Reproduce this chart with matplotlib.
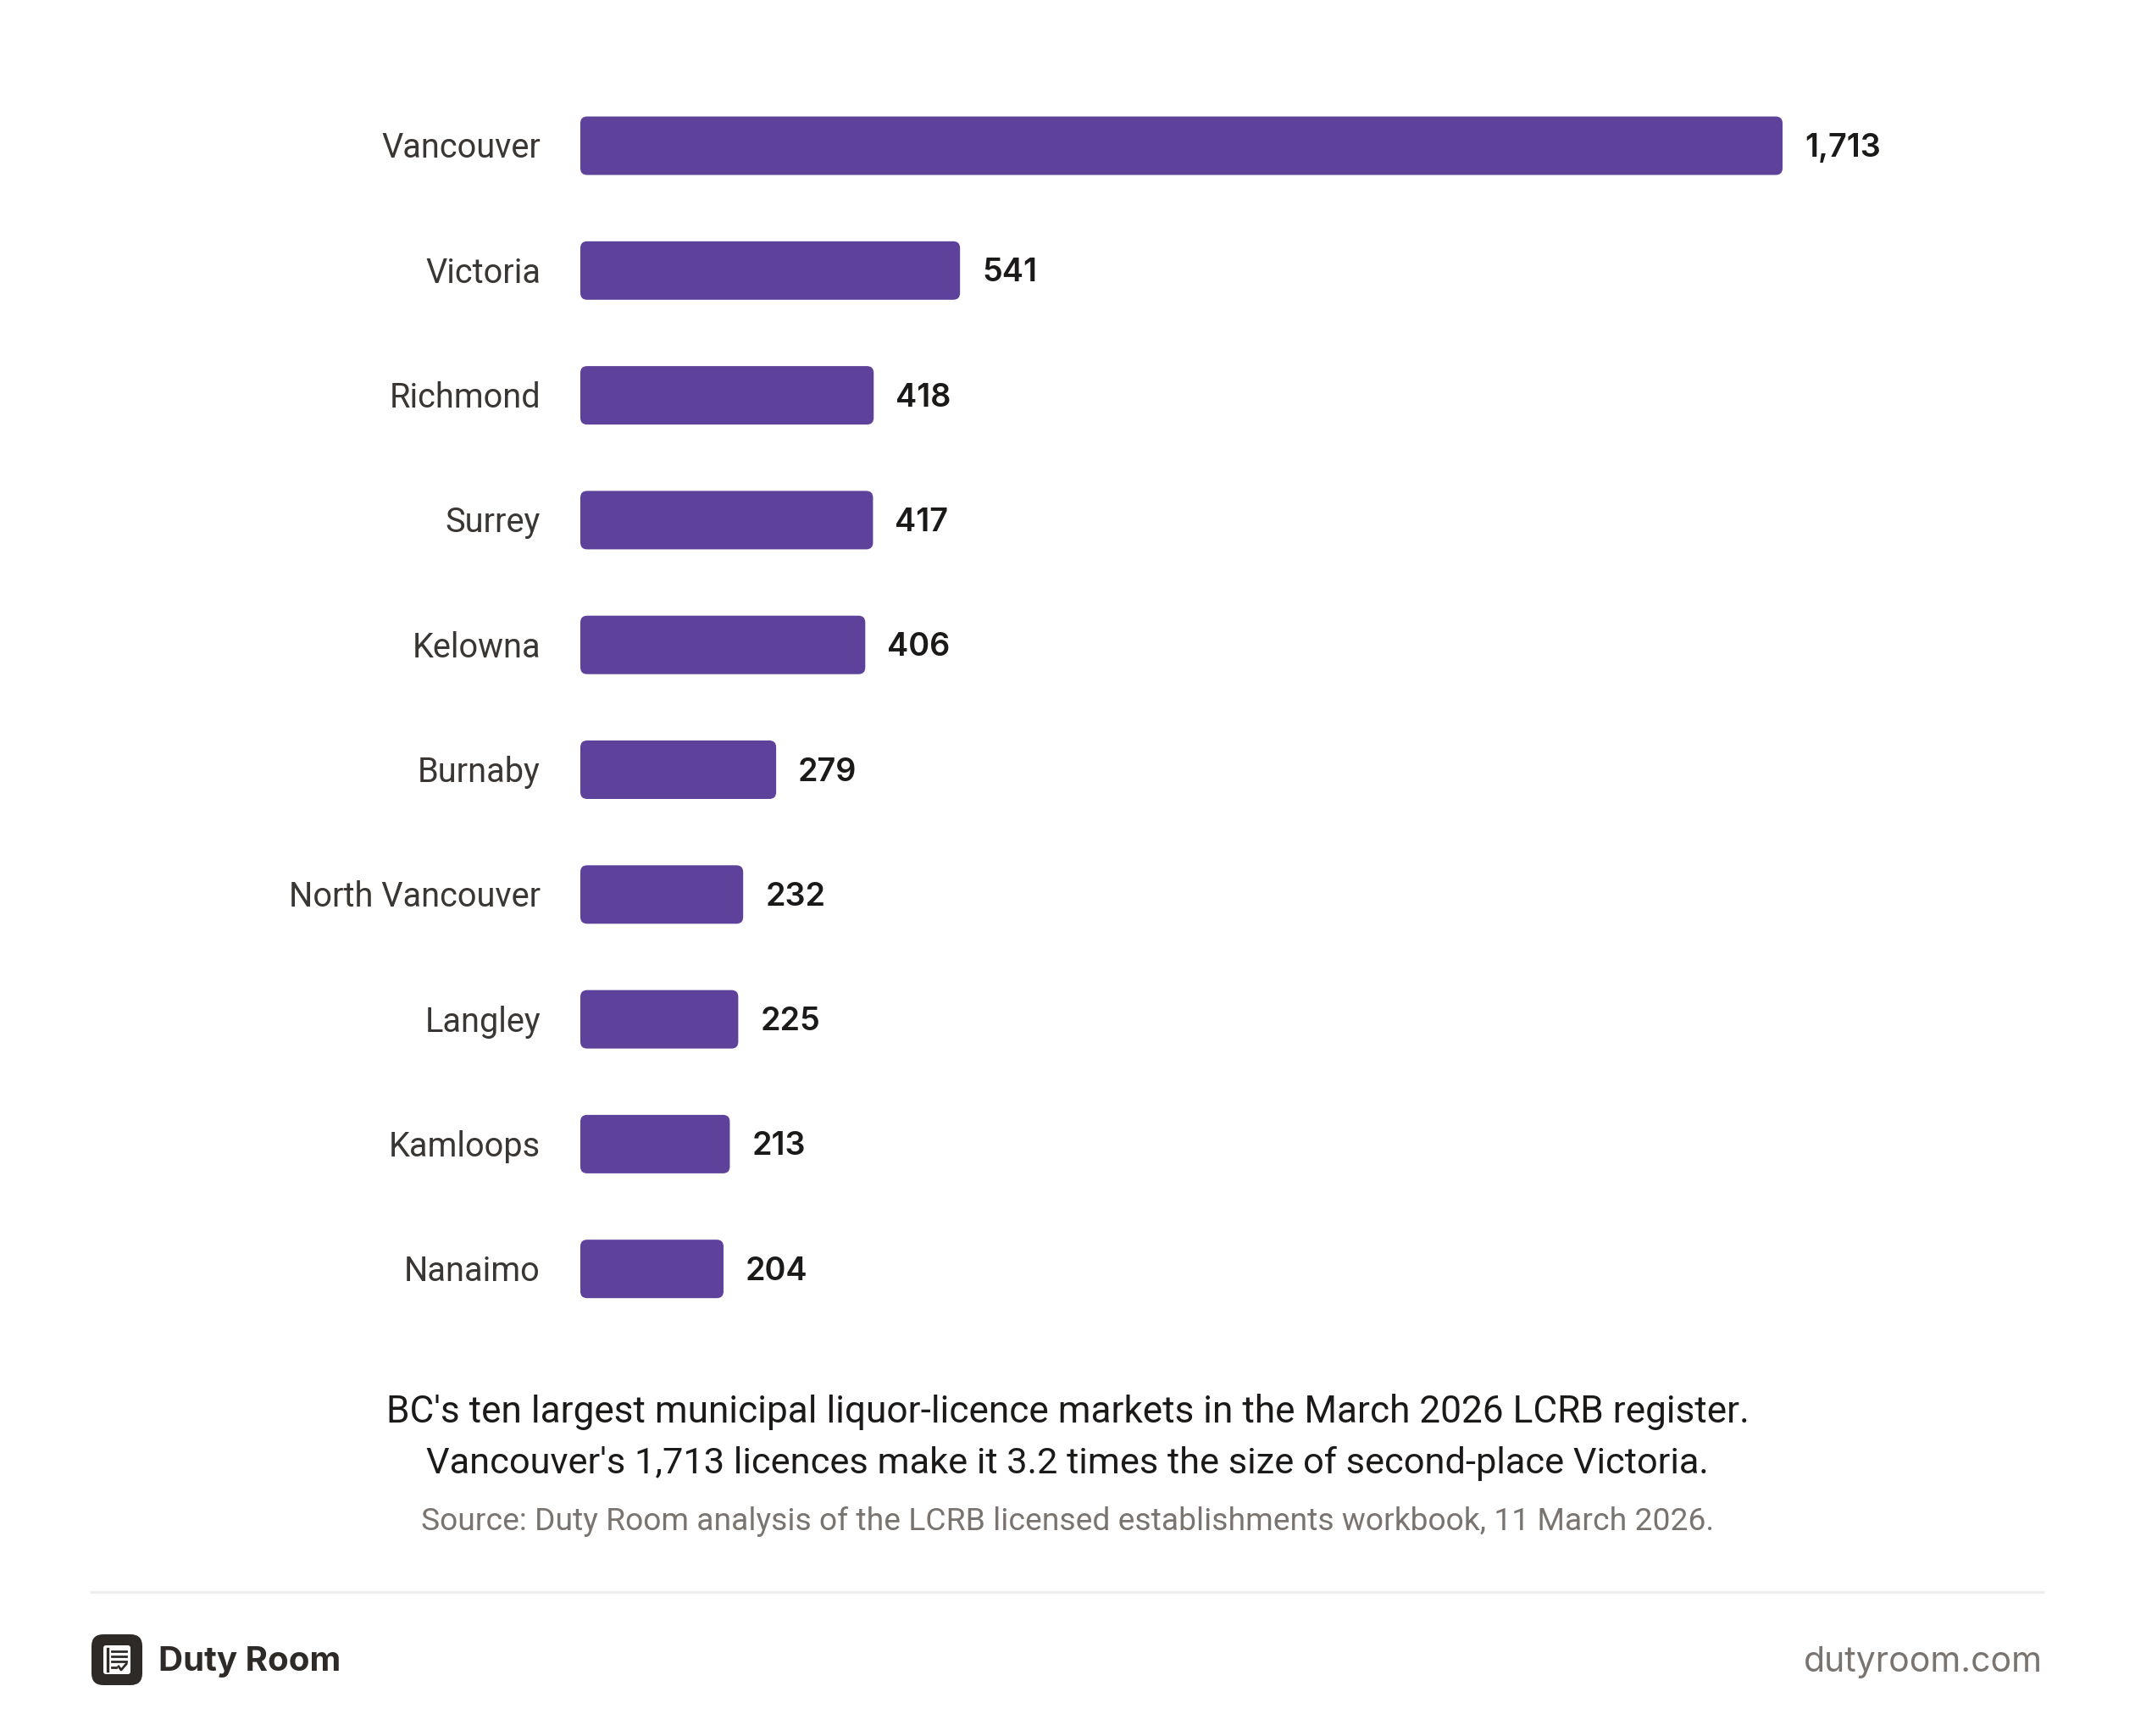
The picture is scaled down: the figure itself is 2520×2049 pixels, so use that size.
import matplotlib
matplotlib.use("Agg")
import matplotlib.pyplot as plt
from matplotlib.patches import FancyBboxPatch
from matplotlib.lines import Line2D

cities = ["Vancouver", "Victoria", "Richmond", "Surrey", "Kelowna",
          "Burnaby", "North Vancouver", "Langley", "Kamloops", "Nanaimo"]
licences = [1713, 541, 418, 417, 406, 279, 232, 225, 213, 204]
caption = ["BC's ten largest municipal liquor-licence markets in the March 2026 LCRB register.",
           "Vancouver's 1,713 licences make it 3.2 times the size of second-place Victoria."]
source = "Source: Duty Room analysis of the LCRB licensed establishments workbook, 11 March 2026."

W, H, DPI = 2520, 2049, 200
PURPLE = "#5e419b"
DARK = "#2d2a28"
GREY = "#7a7470"
LABEL_FONT = ["Roboto", "DejaVu Sans"]
NUM_FONT = ["Inter", "DejaVu Sans"]

fig = plt.figure(figsize=(W / DPI, H / DPI), dpi=DPI)
fig.patch.set_facecolor("white")


def fx(x):
    return x / W


def fy(y):
    return 1 - y / H


# bar area in pixels
x0, x1 = 685, 2104
row = 147.3
top = 172 - row / 2
bottom = 172 + 9 * row + row / 2
ax = fig.add_axes([fx(x0), fy(bottom), fx(x1 - x0), (bottom - top) / H])
ax.set_xlim(0, max(licences))
ax.set_ylim(len(cities) - 0.5, -0.5)
ax.axis("off")

bar_h = 69 / row
xu = max(licences) / (x1 - x0)   # data units per px, x
yu = 1 / row                     # data units per px, y
radius = 8
txt_dy = 3 * yu                  # small nudge so text sits on the bar centre
for i, (c, v) in enumerate(zip(cities, licences)):
    p = FancyBboxPatch((0, i - bar_h / 2), v, bar_h,
                       boxstyle=f"round,pad=0,rounding_size={radius * xu}",
                       mutation_aspect=yu / xu,
                       facecolor=PURPLE, edgecolor="none")
    ax.add_patch(p)
    ax.text(-47 * xu, i + txt_dy, c, ha="right", va="center", fontsize=14.3,
            color="#3a3633", family=LABEL_FONT)
    ax.text(v + 26 * xu, i + txt_dy, f"{v:,}", ha="left", va="center", fontsize=13.6,
            fontweight="semibold", color="#1c1a19", family=NUM_FONT)

# caption and source
fig.text(0.5, fy(1666), caption[0], ha="center", va="center", fontsize=15.9,
         color="#1c1a19", family=LABEL_FONT)
fig.text(0.5, fy(1727), caption[1], ha="center", va="center", fontsize=15.6,
         color="#1c1a19", family=LABEL_FONT)
fig.text(0.5, fy(1796), source, ha="center", va="center", fontsize=13.4,
         color=GREY, family=LABEL_FONT)

# separator
fig.add_artist(Line2D([fx(108), fx(2411)], [fy(1879), fy(1879)],
                      color="#efeeec", lw=1.2, transform=fig.transFigure))

# footer logo
fig.add_artist(FancyBboxPatch((fx(108), fy(1989)), fx(60), 60 / H,
                              boxstyle=f"round,pad=0,rounding_size={fx(14)}",
                              mutation_aspect=W / H,
                              facecolor=DARK, edgecolor="none",
                              transform=fig.transFigure))
fig.add_artist(FancyBboxPatch((fx(122), fy(1976)), fx(32), 34 / H,
                              boxstyle=f"round,pad=0,rounding_size={fx(3)}",
                              mutation_aspect=W / H,
                              facecolor="white", edgecolor="none",
                              transform=fig.transFigure))
fig.add_artist(Line2D([fx(127), fx(127)], [fy(1946), fy(1972)], color=DARK,
                      lw=1.2, transform=fig.transFigure))
for yy in (1949, 1955, 1961):
    fig.add_artist(Line2D([fx(132), fx(149)], [fy(yy), fy(yy)], color=DARK,
                          lw=1.0, transform=fig.transFigure))
fig.add_artist(Line2D([fx(132), fx(137)], [fy(1968), fy(1968)], color=DARK,
                      lw=1.0, transform=fig.transFigure))
fig.add_artist(Line2D([fx(140), fx(143), fx(149)], [fy(1967), fy(1971), fy(1964)],
                      color=DARK, lw=1.0, transform=fig.transFigure))

fig.text(fx(187), fy(1962), "Duty Room", ha="left", va="center", fontsize=14.5,
         fontweight="bold", color=DARK, family=NUM_FONT)
fig.text(fx(2411), fy(1962), "dutyroom.com", ha="right", va="center",
         fontsize=14.75, color=GREY, family=NUM_FONT)

fig.savefig("out.png", dpi=DPI, facecolor="white")
